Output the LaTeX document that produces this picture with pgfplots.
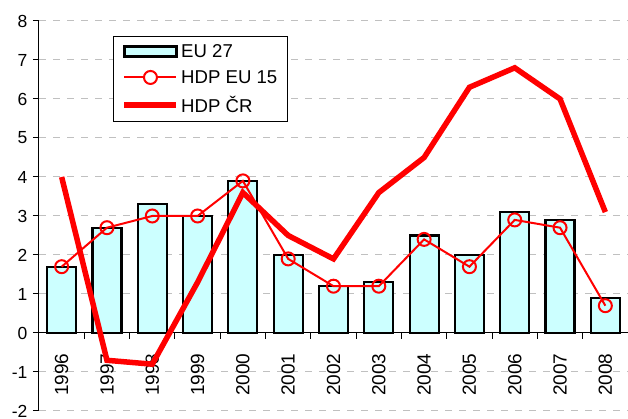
\documentclass[border=0pt]{standalone}
\usepackage{pgfplots}
\pgfplotsset{compat=1.18}
\usepackage{fontspec}
\setmainfont{Liberation Sans}
\definecolor{barcyan}{HTML}{CCFFFF}
\definecolor{gridgray}{HTML}{C0C0C0}
\begin{document}
\begin{tikzpicture}
\begin{axis}[
  name=a,
  scale only axis,
  width=589pt, height=390pt,
  xmin=-0.5, xmax=12.5,
  ymin=-2, ymax=8,
  axis x line*=middle,
  axis y line*=left,
  axis line style={black, line width=1pt},
  xtick={0,...,12},
  xticklabels={1996,1997,1998,1999,2000,2001,2002,2003,2004,2005,2006,2007,2008},
  minor xtick={0.5,1.5,...,12.5},
  major x tick style={draw=none},
  minor x tick style={black, line width=1pt},
  minor tick length=6pt,
  tick align=outside,
  ytick={-2,-1,...,8},
  major tick length=6pt,
  y tick style={black, line width=1pt},
  ymajorgrids,
  grid style={gridgray, line width=1pt, dash pattern=on 7pt off 7pt},
  /pgf/number format/assume math mode=true,
  xticklabel style={font=\fontsize{19}{22}\selectfont, rotate=90, anchor=east, xshift=-11pt},
  yticklabel style={font=\fontsize{17.5}{20}\selectfont, xshift=-2pt},
  legend style={at={(0.126,0.962)}, anchor=north west, draw=black, line width=1pt,
    font=\fontsize{18.6}{22}\selectfont, row sep=7.5pt, inner xsep=8pt, inner ysep=6pt},
  legend cell align=left,
]
\addplot[ybar, bar width=29pt, fill=barcyan, draw=black, line width=2.2pt,
  legend image code/.code={\draw[fill=barcyan, draw=black, line width=2.2pt] (0pt,-5pt) rectangle (52pt,5pt);}]
  coordinates {(0,1.7)(1,2.7)(2,3.3)(3,3.0)(4,3.9)(5,2.0)(6,1.2)(7,1.3)(8,2.5)(9,2.0)(10,3.1)(11,2.9)(12,0.9)};
\addlegendentry{EU 27}
\addplot[red, line width=2pt, mark=o, mark size=6.5pt, mark options={fill=white, line width=2pt},
  legend image code/.code={\draw[red, line width=2pt] (0pt,0pt) -- (52pt,0pt); \draw[red, line width=2pt, fill=white] (26pt,0pt) circle (6.5pt);}]
  coordinates {(0,1.7)(1,2.7)(2,3.0)(3,3.0)(4,3.9)(5,1.9)(6,1.2)(7,1.2)(8,2.4)(9,1.7)(10,2.9)(11,2.7)(12,0.7)};
\addlegendentry{HDP EU 15}
\addplot[red, line width=5.5pt, mark=none,
  legend image code/.code={\draw[red, line width=5.5pt] (0pt,0pt) -- (52pt,0pt);}]
  coordinates {(0,4.0)(1,-0.7)(2,-0.8)(3,1.3)(4,3.6)(5,2.5)(6,1.9)(7,3.6)(8,4.5)(9,6.3)(10,6.8)(11,6.0)(12,3.1)};
\addlegendentry{HDP ČR}
\end{axis}
\pgfresetboundingbox
\path (a.south west) ++(-39pt,-8pt) rectangle ++(628pt,419pt);
\end{tikzpicture}
\end{document}
